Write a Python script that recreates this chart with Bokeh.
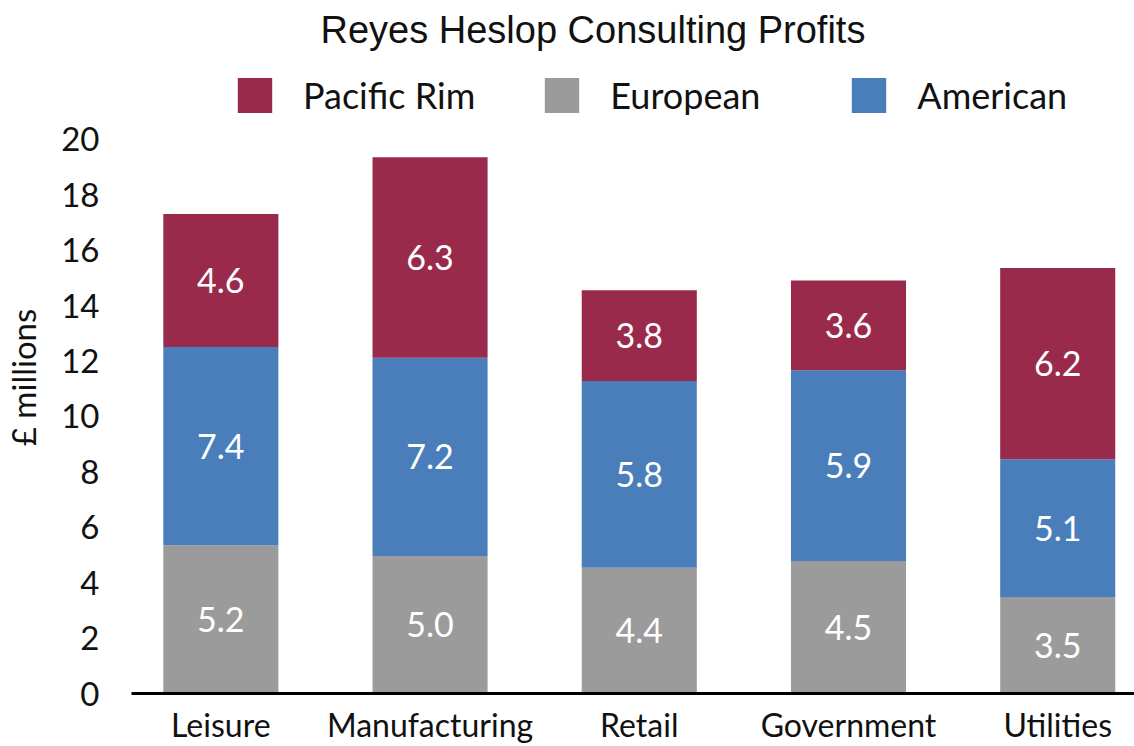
from bokeh.plotting import figure
from bokeh.models import Range1d, FixedTicker, Legend, LegendItem, ColumnDataSource
from bokeh.embed import file_html
from bokeh.resources import INLINE
from bokeh.core.properties import value

# ---- data ----
categories = ["Leisure", "Manufacturing", "Retail", "Government", "Utilities"]
series_names = ["Pacific Rim", "European", "American"]
# segment heights as drawn (£ millions)
european = [5.35, 4.96, 4.54, 4.78, 3.48]
american = [7.16, 7.16, 6.74, 6.89, 4.97]
pacific_rim = [4.80, 7.23, 3.27, 3.24, 6.91]
# value labels as printed on the bars
european_labels = ["5.2", "5.0", "4.4", "4.5", "3.5"]
american_labels = ["7.4", "7.2", "5.8", "5.9", "5.1"]
pacific_rim_labels = ["4.6", "6.3", "3.8", "3.6", "6.2"]
y_ticks = [0, 2, 4, 6, 8, 10, 12, 14, 16, 18, 20]
title_text = "Reyes Heslop Consulting Profits"
y_label = "£ millions"

# ---- styles ----
C_PAC = "#9a2a4b"
C_EUR = "#9b9b9b"
C_AME = "#4a7ebb"
SANS = "Lato"

xs = list(range(len(categories)))
src = ColumnDataSource(dict(x=xs, european=european, american=american,
                            pacific_rim=pacific_rim))

p = figure(width=1134, height=746, output_backend="svg", toolbar_location=None,
           x_range=Range1d(-0.427, 4.367), y_range=Range1d(0, 22.81),
           min_border_left=130, min_border_right=0, min_border_bottom=53,
           min_border_top=60, outline_line_color=None)

rs = p.vbar_stack(["european", "american", "pacific_rim"], x="x", width=0.55,
                  color=[C_EUR, C_AME, C_PAC], line_color=None, source=src)
r_eur, r_ame, r_pac = rs

# value labels at segment centres
def mids(bottoms, heights):
    return [b + h / 2 for b, h in zip(bottoms, heights)]

zero = [0] * len(xs)
eur_top = european
ame_top = [a + b for a, b in zip(european, american)]
lab_x = xs * 3
lab_y = mids(zero, european) + mids(eur_top, american) + mids(ame_top, pacific_rim)
lab_t = european_labels + american_labels + pacific_rim_labels
p.text(x=lab_x, y=lab_y, text=lab_t, text_color="white", text_font=value(SANS),
       text_font_size="34px", text_align="center", text_baseline="middle")

# title
p.title.text = title_text
p.title.text_font = "Liberation Sans"
p.title.text_font_size = "38px"
p.title.text_font_style = "normal"
p.title.text_color = "#111111"
p.title.align = "left"
p.title.offset = 189
p.title.vertical_align = "top"
p.title.standoff = 17

# axes
p.grid.visible = False
yax = p.yaxis[0]
yax.ticker = FixedTicker(ticks=y_ticks)
yax.axis_line_color = None
yax.major_tick_line_color = None
yax.minor_tick_line_color = None
yax.major_tick_out = 0
yax.major_label_text_font = SANS
yax.major_label_text_font_size = "33px"
yax.major_label_text_color = "#111111"
yax.major_label_standoff = 32
yax.axis_label = y_label
yax.axis_label_text_font = SANS
yax.axis_label_text_font_size = "33px"
yax.axis_label_text_font_style = "normal"
yax.axis_label_text_color = "#111111"
yax.axis_label_standoff = 15

xax = p.xaxis[0]
xax.ticker = FixedTicker(ticks=xs)
xax.major_label_overrides = {i: c for i, c in zip(xs, categories)}
xax.axis_line_color = "black"
xax.axis_line_width = 3
xax.major_tick_line_color = None
xax.minor_tick_line_color = None
xax.major_tick_out = 0
xax.major_label_text_font = SANS
xax.major_label_text_font_size = "32px"
xax.major_label_text_color = "#111111"
xax.major_label_standoff = 11

legend = Legend(items=[LegendItem(label=series_names[0], renderers=[r_pac]),
                       LegendItem(label=series_names[1], renderers=[r_eur]),
                       LegendItem(label=series_names[2], renderers=[r_ame])],
                location=(102, 576), orientation="horizontal",
                glyph_width=43, glyph_height=44, label_height=44,
                label_width=172, label_standoff=27, spacing=65, padding=0, margin=0,
                border_line_color=None, background_fill_alpha=0,
                label_text_font=SANS, label_text_font_size="36px",
                label_text_color="#111111")
p.add_layout(legend)

open("out.html", "w").write(file_html(p, INLINE))
